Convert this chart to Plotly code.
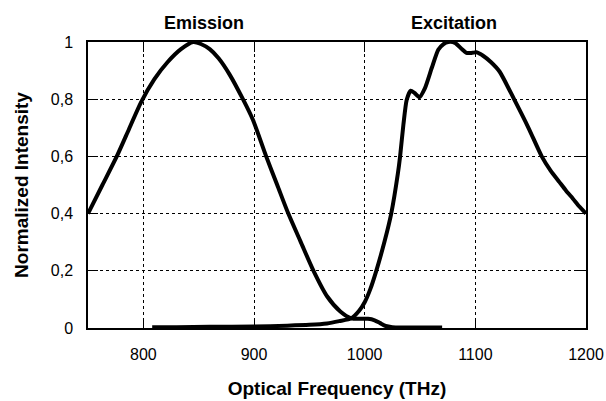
import plotly.graph_objects as go

# Emission spectrum (optical frequency in THz, normalized intensity)
em_x = [750, 763, 776, 787, 798, 810, 822, 834, 845, 852, 860, 868, 878, 890, 899, 911,
        921, 931, 942, 954, 966, 978, 988, 995, 1003, 1009, 1014, 1019, 1025, 1035, 1050, 1070]
em_y = [0.40, 0.50, 0.60, 0.695, 0.79, 0.87, 0.93, 0.975, 1.0, 0.993, 0.975, 0.943, 0.886, 0.80, 0.728, 0.60,
        0.50, 0.40, 0.303, 0.198, 0.111, 0.058, 0.034, 0.032, 0.032, 0.027, 0.017, 0.007, 0.003, 0.002, 0.002, 0.002]

# Excitation spectrum
ex_x = [808, 830, 860, 900, 930, 950, 966, 977, 988, 995, 1000, 1005, 1010.5, 1018, 1024, 1030, 1032,
        1035, 1038, 1041.6, 1045, 1049.4, 1054.5, 1060.6, 1066.5, 1071, 1075.6, 1081.6, 1087, 1092,
        1097, 1101, 1107, 1114, 1122, 1135, 1148, 1160, 1168, 1176, 1182, 1188, 1194, 1200]
ex_y = [0.003, 0.003, 0.004, 0.005, 0.008, 0.011, 0.016, 0.024, 0.034, 0.06, 0.09, 0.135, 0.20, 0.303, 0.40, 0.54, 0.60,
        0.711, 0.798, 0.83, 0.822, 0.807, 0.839, 0.909, 0.973, 0.992, 1.0, 0.997, 0.978, 0.962,
        0.962, 0.964, 0.952, 0.93, 0.896, 0.80, 0.70, 0.60, 0.55, 0.51, 0.48, 0.453, 0.425, 0.40]

x_ticks = [800, 900, 1000, 1100, 1200]
x_ticklabels = ["800", "900", "1000", "1100", "1200"]
y_ticks = [0, 0.2, 0.4, 0.6, 0.8, 1]
y_ticklabels = ["0", "0,2", "0,4", "0,6", "0,8", "1"]

FONT = "Liberation Sans, Arial, sans-serif"

fig = go.Figure()
fig.add_trace(go.Scatter(x=em_x, y=em_y, mode="lines", name="Emission",
                         line=dict(color="black", width=4, shape="spline", smoothing=0.7)))
fig.add_trace(go.Scatter(x=ex_x, y=ex_y, mode="lines", name="Excitation",
                         line=dict(color="black", width=4, shape="spline", smoothing=0.6)))

axis_common = dict(
    showline=True, linecolor="black", linewidth=1.5, mirror="ticks",
    ticks="inside", ticklen=10, tickwidth=1, tickcolor="black",
    showgrid=True, gridcolor="black", gridwidth=1, griddash="dot",
    zeroline=False,
    tickfont=dict(family=FONT, size=16, color="black"),
)

fig.update_xaxes(range=[750, 1200], tickvals=x_ticks, ticktext=x_ticklabels,
                 ticklabelstandoff=11,
                 title=dict(text="Optical Frequency (THz)", standoff=20,
                            font=dict(family=FONT, size=19, color="black", weight="bold")),
                 **axis_common)
fig.update_yaxes(range=[0, 1], tickvals=y_ticks, ticktext=y_ticklabels,
                 ticklabelstandoff=10,
                 title=dict(text="Normalized Intensity", standoff=17,
                            font=dict(family=FONT, size=19, color="black", weight="bold")),
                 **axis_common)

for txt, xv in [("Emission", 855), ("Excitation", 1081)]:
    fig.add_annotation(x=xv, xref="x", y=1.068, yref="paper", yanchor="middle",
                       text=txt, showarrow=False,
                       font=dict(family=FONT, size=18, color="black", weight="bold"))

fig.update_layout(
    width=606, height=401,
    margin=dict(l=88, r=20, t=42, b=73, autoexpand=False),
    plot_bgcolor="white", paper_bgcolor="white",
    showlegend=False,
)

fig.write_html("out.html")
